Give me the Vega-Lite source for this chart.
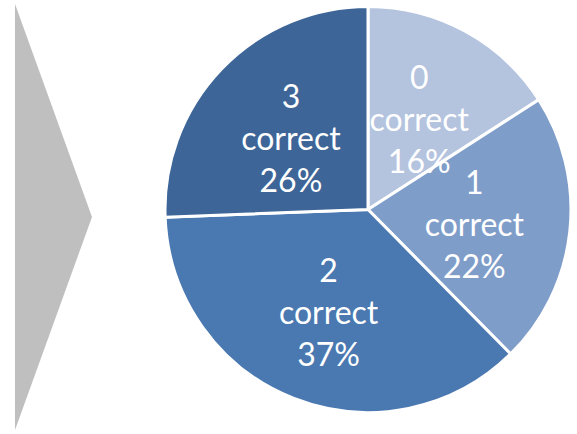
{
  "$schema": "https://vega.github.io/schema/vega-lite/v6.json",
  "padding": 0,
  "spacing": 0,
  "background": "white",
  "config": {"view": {"stroke": null}, "concat": {"spacing": 0}},
  "hconcat": [
    {
      "width": 159,
      "height": 434,
      "data": {"values": [
        {"x": 15, "top": 4, "bottom": 430},
        {"x": 92, "top": 217, "bottom": 217}
      ]},
      "mark": {"type": "area", "orient": "vertical", "color": "#BFBFBF", "opacity": 1},
      "encoding": {
        "x": {"field": "x", "type": "quantitative", "scale": {"domain": [0, 159], "nice": false, "zero": false}, "axis": null},
        "y": {"field": "top", "type": "quantitative", "scale": {"domain": [0, 434], "reverse": true, "nice": false, "zero": false}, "axis": null},
        "y2": {"field": "bottom"}
      }
    },
    {
      "width": 414,
      "height": 419,
      "data": {"values": [
        {"category": "0 correct", "value": 15.9, "label": ["0", "correct", "16%"]},
        {"category": "1 correct", "value": 21.7, "label": ["1", "correct", "22%"]},
        {"category": "2 correct", "value": 36.8, "label": ["2", "correct", "37%"]},
        {"category": "3 correct", "value": 25.6, "label": ["3", "correct", "26%"]}
      ]},
      "encoding": {
        "theta": {"field": "value", "type": "quantitative", "stack": true},
        "order": {"field": "category", "sort": "ascending"}
      },
      "layer": [
        {
          "mark": {"type": "arc", "outerRadius": 203, "stroke": "white", "strokeWidth": 3},
          "encoding": {
            "color": {"field": "category", "type": "nominal", "sort": ["0 correct", "1 correct", "2 correct", "3 correct"],
              "scale": {"domain": ["0 correct", "1 correct", "2 correct", "3 correct"], "range": ["#B4C3DE", "#7F9DC9", "#4A78B0", "#3D6597"]},
              "legend": null}
          }
        },
        {
          "mark": {"type": "text", "radius": 107, "dy": -37, "fontSize": 32, "font": "Lato", "color": "white", "lineHeight": 42, "align": "center", "baseline": "middle"},
          "encoding": {
            "text": {"field": "label"}
          }
        }
      ]
    }
  ]
}
